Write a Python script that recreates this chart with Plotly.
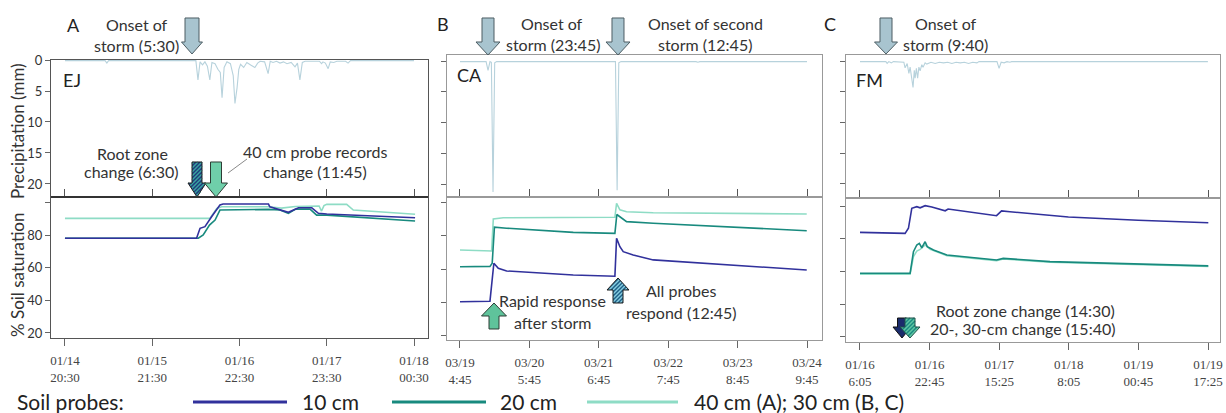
import plotly.graph_objects as go

W, H = 1226, 413

# ---------------- DATA ----------------
# Panel A (EJ) – hours after first tick
A_tick_hours = [0, 25, 50, 75, 100]
A_tick_labels = ["01/14<br>20:30", "01/15<br>21:30", "01/16<br>22:30", "01/17<br>23:30", "01/18<br>00:30"]
A_rain_hours = [0, 11.5, 12.0, 12.5, 37.5, 38.1, 38.7, 39.4, 40.1, 40.8, 41.5, 42.1, 43.0, 43.8, 44.5, 45.0,
                45.6, 46.4, 47.4, 48.2, 48.7, 49.3, 49.8, 50.3, 51.2, 52.1, 53.2, 54.4, 55.2, 55.9, 57.2, 58.2,
                58.8, 59.6, 60.6, 61.6, 62.6, 63.6, 64.8, 65.9, 66.6, 67.3, 68.0, 68.8, 72.9, 73.5, 73.9, 74.6,
                75.4, 76.0, 77.0, 77.9, 80.4, 81.1, 81.8, 100]
A_rain_mm = [0.1, 0.1, 0.5, 0.1, 0.1, 3.2, 0.3, 0.8, 0.3, 1.0, 3.2, 0.4, 0.6, 1.5, 2.0, 6.1,
             1.2, 0.3, 0.6, 2.5, 7.0, 4.5, 1.5, 0.7, 1.2, 0.4, 0.8, 1.2, 0.5, 0.2, 0.3, 2.2,
             0.2, 0.4, 0.2, 0.5, 0.3, 0.6, 0.4, 1.1, 0.5, 3.2, 0.4, 0.2, 0.2, 0.6, 0.3, 0.5,
             1.4, 0.3, 0.4, 0.2, 0.2, 0.5, 0.1, 0.1]
A_10cm_hours = [0, 37.7, 38.7, 40.1, 42.0, 44.4, 45.3, 58.3, 58.7, 61.6, 64.0, 66.9, 70.7, 72.6, 75.0, 85.0, 100.3]
A_10cm = [78.0, 78.0, 84.1, 85.1, 91.2, 98.4, 99.0, 99.0, 97.3, 95.3, 93.9, 96.7, 96.7, 93.3, 92.9, 92.0, 90.6]
A_20cm_hours = [0, 38.2, 39.6, 41.4, 43.0, 44.4, 58.3, 61.6, 64.0, 66.1, 70.2, 72.1, 75.0, 82.6, 100.3]
A_20cm = [78.0, 78.0, 80.0, 86.1, 89.2, 95.3, 95.7, 95.3, 93.3, 95.9, 95.9, 92.2, 92.2, 91.2, 88.6]
A_deep_hours = [0, 41.5, 43.5, 44.9, 58.3, 62.0, 66.0, 72.8, 73.5, 74.2, 75.0, 80.7, 82.6, 100.3]
A_deep = [90.2, 90.2, 96.3, 97.3, 97.3, 96.5, 97.5, 97.8, 94.7, 98.0, 98.8, 98.8, 95.3, 92.7]

# Panel B (CA)
B_tick_hours = [0, 25, 50, 75, 100, 125]
B_tick_labels = ["03/19<br>4:45", "03/20<br>5:45", "03/21<br>6:45", "03/22<br>7:45", "03/23<br>8:45", "03/24<br>9:45"]
B_rain_hours = [0, 9.4, 10.1, 10.8, 11.3, 11.9, 12.5, 13.2, 56.0, 56.6, 57.2, 58.0, 85.0, 85.7, 86.4, 125]
B_rain_mm = [0.1, 0.1, 1.5, 0.1, 0.2, 21.3, 0.3, 0.1, 0.1, 21.0, 0.3, 0.1, 0.1, 0.2, 0.1, 0.1]
B_10cm_hours = [0, 10.8, 12.2, 13.8, 16.8, 40.8, 55.8, 56.4, 57.0, 57.6, 58.8, 62.4, 69.6, 124.9]
B_10cm = [40.2, 40.5, 63.5, 60.4, 58.8, 56.4, 55.6, 78.6, 76.0, 73.5, 70.5, 68.5, 65.5, 59.4]
B_20cm_hours = [0, 10.8, 11.6, 12.4, 16.8, 40.8, 55.8, 56.5, 60.0, 69.6, 124.9]
B_20cm = [61.4, 61.6, 63.5, 85.3, 84.7, 82.2, 81.6, 93.0, 88.7, 87.7, 83.2]
B_deep_hours = [0, 11.4, 12.0, 15.6, 55.8, 56.4, 57.6, 60.0, 69.6, 124.9]
B_deep = [71.5, 70.9, 90.3, 91.0, 91.3, 99.8, 95.8, 94.7, 94.1, 93.3]

# Panel C (FM)
C_tick_hours = [0, 16.667, 33.333, 50, 66.667, 83.333]
C_tick_labels = ["01/16<br>6:05", "01/16<br>22:45", "01/17<br>15:25", "01/18<br>8:05", "01/19<br>00:45", "01/19<br>17:25"]
C_rain_hours = [0, 6.2, 6.5, 6.9, 7.5, 8.0, 10.5, 10.8, 11.3, 11.7, 12.0, 12.4, 12.7, 13.0, 13.2, 13.5, 13.8, 14.1,
                14.4, 14.8, 15.1, 15.6, 16.0, 17, 18, 19, 20, 21, 22, 23, 24, 25, 26, 27, 28, 28.5,
                32.8, 33.3, 33.8, 34.5, 35.2, 35.9, 36.3, 83.3]
C_rain_mm = [0.1, 0.1, 0.4, 0.1, 0.3, 0.1, 0.2, 1.1, 0.4, 2.0, 1.0, 2.5, 4.3, 1.5, 2.8, 1.2, 2.8, 1.0,
             1.6, 0.6, 1.0, 0.3, 0.5, 0.2, 0.4, 0.2, 0.3, 0.2, 0.4, 0.2, 0.3, 0.2, 0.4, 0.2, 0.3, 0.1,
             0.1, 1.2, 0.2, 0.3, 0.1, 0.2, 0.1, 0.1]
C_10cm_hours = [0, 10.8, 11.6, 12.4, 13.6, 14.4, 15.6, 17.2, 20.4, 21.1, 32.7, 33.9, 35.9, 45.5, 49.9, 66.6, 83.4]
C_10cm = [83.9, 83.3, 86.4, 98.6, 99.6, 98.9, 100.2, 99.4, 97.1, 98.2, 94.1, 97.0, 96.5, 94.0, 93.3, 91.3, 89.8]
C_20cm_hours = [0, 12.0, 12.8, 13.6, 14.2, 14.8, 15.6, 16.1, 17.6, 20.8, 32.7, 34.3, 45.5, 66.6, 83.4]
C_20cm = [58.9, 58.9, 72.1, 76.2, 77.2, 74.5, 78.2, 75.2, 73.1, 70.1, 67.0, 68.0, 66.0, 64.6, 63.4]
C_deep_hours = [0, 12.0, 12.8, 13.6, 14.4, 15.6, 16.8, 20.8, 32.7, 34.3, 45.5, 66.6, 83.4]
C_deep = [58.3, 58.3, 69.1, 72.5, 73.5, 76.2, 73.5, 69.7, 66.6, 67.6, 65.6, 64.2, 63.0]

RAIN_TICKS = [0, 5, 10, 15, 20]
SOIL_TICKS = [20, 40, 60, 80, 100]
SOIL_TICK_TEXT = ["20", "40", "60", "80", ""]

COL_10 = "#31319c"
COL_20 = "#188a7e"
COL_DEEP = "#8edcc5"
COL_RAIN = "#b7d2dc"

FONT = "Lato, 'Open Sans', sans-serif"
SERIF = "'Liberation Serif', serif"


def px(x):
    return x / W


def py(y):
    return 1 - y / H


panels = [
    dict(x0=51, x1=428, top=60, mid=197, bot=338, xr=[-4.0, 104.0], rr=[22.1, 0], sr=[16.9, 103.3],
         tv=A_tick_hours, tt=A_tick_labels, labels=True, lc="#555",
         rain=(A_rain_hours, A_rain_mm),
         soil=[(A_10cm_hours, A_10cm, COL_10), (A_20cm_hours, A_20cm, COL_20), (A_deep_hours, A_deep, COL_DEEP)]),
    dict(x0=447, x1=822, top=55, mid=197, bot=340, xr=[-4.68, 130.4], rr=[22.1, -0.98], sr=[17.0, 103.6],
         tv=B_tick_hours, tt=B_tick_labels, labels=False, lc="#999",
         rain=(B_rain_hours, B_rain_mm),
         soil=[(B_10cm_hours, B_10cm, COL_10), (B_20cm_hours, B_20cm, COL_20), (B_deep_hours, B_deep, COL_DEEP)]),
    dict(x0=846, x1=1220, top=55, mid=198, bot=342, xr=[-3.35, 86.2], rr=[22.3, -0.98], sr=[16.9, 104.9],
         tv=C_tick_hours, tt=C_tick_labels, labels=False, lc="#999",
         rain=(C_rain_hours, C_rain_mm),
         soil=[(C_10cm_hours, C_10cm, COL_10), (C_20cm_hours, C_20cm, COL_20), (C_deep_hours, C_deep, COL_DEEP)]),
]

fig = go.Figure()
layout = {}


def kx(n):
    return "xaxis" if n == 1 else f"xaxis{n}"


def ky(n):
    return "yaxis" if n == 1 else f"yaxis{n}"


for i, p in enumerate(panels):
    t = 2 * i + 1
    b = 2 * i + 2
    xt, yt = f"x{t}", f"y{t}"
    xb, yb = f"x{b}", f"y{b}"
    xdom = [px(p["x0"]), px(p["x1"])]
    common = dict(showgrid=False, zeroline=False, showline=True, mirror=True, linecolor=p["lc"], linewidth=1,
                  automargin=False)
    layout[kx(t)] = dict(domain=xdom, range=p["xr"], anchor=yt, tickvals=p["tv"], ticks="inside", ticklen=8,
                         tickcolor="#555", showticklabels=False, **common)
    layout[ky(t)] = dict(domain=[py(p["mid"]), py(p["top"])], range=p["rr"], anchor=xt, tickvals=RAIN_TICKS,
                         ticks="outside", ticklen=5, tickcolor="#666", showticklabels=p["labels"],
                         tickfont=dict(family=FONT, size=13, color="#333"), **common)
    layout[kx(b)] = dict(domain=xdom, range=p["xr"], anchor=yb, tickvals=p["tv"], ticktext=p["tt"],
                         ticks="outside", ticklen=7, tickcolor="#666", ticklabelstandoff=3,
                         tickfont=dict(family=SERIF, size=13, color="#444"), **common)
    layout[ky(b)] = dict(domain=[py(p["bot"]), py(p["mid"])], range=p["sr"], anchor=xb, tickvals=SOIL_TICKS,
                         ticktext=SOIL_TICK_TEXT, ticks="outside", ticklen=5, tickcolor="#666",
                         showticklabels=p["labels"], tickfont=dict(family=FONT, size=13, color="#333"), **common)
    rh, rm = p["rain"]
    fig.add_trace(go.Scatter(x=rh, y=rm, mode="lines", line=dict(color=COL_RAIN, width=1.1),
                             xaxis=xt, yaxis=yt, showlegend=False, hoverinfo="skip"))
    for (hh, vv, col) in p["soil"][::-1]:
        fig.add_trace(go.Scatter(x=hh, y=vv, mode="lines", line=dict(color=col, width=1.6),
                                 xaxis=xb, yaxis=yb, showlegend=False, hoverinfo="skip"))

# ---------------- annotations ----------------
ann = []


def txt(x, y, s, size=16, color="#333", anchor="center", angle=0):
    ann.append(dict(x=px(x), y=py(y), xref="paper", yref="paper", text=s, showarrow=False,
                    xanchor=anchor, yanchor="middle", textangle=angle,
                    font=dict(family=FONT, size=size, color=color)))


# panel letters and site codes
txt(73, 25, "A", 18, "#222")
txt(443, 24, "B", 18, "#222")
txt(830, 24, "C", 18, "#222")
txt(72, 80, "EJ", 18, "#222")
txt(469, 75, "CA", 18, "#222")
txt(869, 80, "FM", 18, "#222")

# axis titles
txt(17, 131, "Precipitation (mm)", 17, "#333", angle=-90)
txt(17, 275, "% Soil saturation", 17, "#333", angle=-90)

# panel A notes
txt(137, 24, "Onset of")
txt(136, 45, "storm (5:30)")
txt(132, 153, "Root zone")
txt(131, 171, "change (6:30)")
txt(315, 151, "40 cm probe records")
txt(315, 171, "change (11:45)")
# panel B notes
txt(552, 23, "Onset of")
txt(553, 44, "storm (23:45)")
txt(705, 23, "Onset of second")
txt(705, 44, "storm (12:45)")
txt(552, 300, "Rapid response")
txt(552, 322, "after storm")
txt(681, 290, "All probes")
txt(681, 312, "respond (12:45)")
# panel C notes
txt(946, 23, "Onset of")
txt(945, 44, "storm (9:40)")
txt(1025, 310, "Root zone change (14:30)")
txt(1022, 328, "20-, 30-cm change (15:40)")

# legend text
txt(15, 401, "Soil probes:", 21, "#222", anchor="left")
txt(300, 401, "10 cm", 21, "#222", anchor="left")
txt(498, 401, "20 cm", 21, "#222", anchor="left")
txt(692, 401, "40 cm (A); 30 cm (B, C)", 21, "#222", anchor="left")

# ---------------- shapes (arrows, legend lines) ----------------
shapes = []


def arrow_parts(xc, y0, y1, sw, hw, hl):
    d = 1 if y1 > y0 else -1
    yb = y1 - d * hl
    shaft = [(xc - sw / 2, y0), (xc + sw / 2, y0), (xc + sw / 2, yb), (xc - sw / 2, yb)]
    head = [(xc - hw / 2, yb), (xc + hw / 2, yb), (xc, y1)]
    outline = [(xc - sw / 2, y0), (xc + sw / 2, y0), (xc + sw / 2, yb), (xc + hw / 2, yb), (xc, y1),
               (xc - hw / 2, yb), (xc - sw / 2, yb)]
    return shaft, head, outline


def path_of(pts):
    return "M " + " L ".join(f"{px(x):.5f},{py(y):.5f}" for x, y in pts) + " Z"


def clip_seg(p0, p1, poly):
    t0, t1 = 0.0, 1.0
    dx, dy = p1[0] - p0[0], p1[1] - p0[1]
    n = len(poly)
    area = sum(poly[k][0] * poly[(k + 1) % n][1] - poly[(k + 1) % n][0] * poly[k][1] for k in range(n))
    s = 1 if area > 0 else -1
    for k in range(n):
        ax, ay = poly[k]
        bx, by = poly[(k + 1) % n]
        ex, ey = bx - ax, by - ay
        nx, ny = -ey * s, ex * s
        num = nx * (p0[0] - ax) + ny * (p0[1] - ay)
        den = nx * dx + ny * dy
        if abs(den) < 1e-12:
            if num < 0:
                return None
            continue
        t = -num / den
        if den > 0:
            t0 = max(t0, t)
        else:
            t1 = min(t1, t)
        if t0 > t1:
            return None
    return (p0[0] + t0 * dx, p0[1] + t0 * dy), (p0[0] + t1 * dx, p0[1] + t1 * dy)


def block_arrow(xc, y0, y1, sw, hw, hl, fill, edge="#3a3a3a", stripe=None, spacing=4.0, sw_line=1.4):
    shaft, head, outline = arrow_parts(xc, y0, y1, sw, hw, hl)
    shapes.append(dict(type="path", path=path_of(outline), xref="paper", yref="paper",
                       fillcolor=fill, line=dict(color=fill, width=0), layer="above"))
    if stripe:
        allx = [q[0] for q in outline]
        ally = [q[1] for q in outline]
        ytop, ybot = min(ally) - 2, max(ally) + 2
        cmin, cmax = min(allx) + min(ally) - 2, max(allx) + max(ally) + 2
        c = cmin
        while c <= cmax:
            a = (c - ybot, ybot)
            bpt = (c - ytop, ytop)
            for part in (shaft, head):
                r = clip_seg(a, bpt, part)
                if r:
                    (x0_, y0_), (x1_, y1_) = r
                    shapes.append(dict(type="line", xref="paper", yref="paper",
                                       x0=px(x0_), y0=py(y0_), x1=px(x1_), y1=py(y1_),
                                       line=dict(color=stripe, width=sw_line), layer="above"))
            c += spacing
    shapes.append(dict(type="path", path=path_of(outline), xref="paper", yref="paper",
                       fillcolor="rgba(0,0,0,0)", line=dict(color=edge, width=1), layer="above"))


ONSET = "#a8c4cf"
# storm onset arrows
block_arrow(192, 18, 54, 14, 21, 12, ONSET, "#4d5d63")
block_arrow(488, 18, 55, 12, 24, 13, ONSET, "#4d5d63")
block_arrow(618, 18, 55, 12, 24, 13, ONSET, "#4d5d63")
block_arrow(886, 18, 54, 12, 23, 12, ONSET, "#4d5d63")
# panel A probe arrows
block_arrow(197, 162, 197, 10, 18, 14, "#1f3c7c", "#222", stripe="#3aa5a0")
block_arrow(216, 162, 197, 11, 23, 14, "#6fcfaa", "#2d3d35")
shapes.append(dict(type="line", xref="paper", yref="paper", x0=px(228), y0=py(173), x1=px(247), y1=py(159),
                   line=dict(color="#8a8a8a", width=1)))
# panel B response arrows
block_arrow(494, 329, 303, 10, 25, 13, "#5fc39b", "#2d3d35")
block_arrow(618, 303, 278, 10, 22, 12, "#1f5f86", "#222", stripe="#86cde0")
# panel C response arrows
block_arrow(902, 318, 338, 9, 18, 11, "#1b2c6c", "#111")
block_arrow(910, 318, 338, 10, 20, 11, "#5fc7a4", "#1f4f48", stripe="#1a8a80")

# legend lines
for (a, b, col) in [(193, 287, COL_10), (392, 486, COL_20), (587, 678, COL_DEEP)]:
    shapes.append(dict(type="line", xref="paper", yref="paper", x0=px(a), x1=px(b), y0=py(402), y1=py(402),
                       line=dict(color=col, width=3)))

# thicker divider in panel A
shapes.append(dict(type="line", xref="paper", yref="paper", x0=px(51), x1=px(428), y0=py(197), y1=py(197),
                   line=dict(color="#333", width=2), layer="above"))

fig.update_layout(
    template="none",
    width=W, height=H,
    autosize=False,
    margin=dict(l=0, r=0, t=0, b=0, pad=0),
    paper_bgcolor="white", plot_bgcolor="white",
    showlegend=False,
    annotations=ann,
    shapes=shapes,
    **layout,
)

fig.write_html(
    "out.html",
    config={"responsive": False, "displayModeBar": False},
    post_script="document.body.style.margin='0';document.body.style.padding='0';document.body.style.overflow='hidden';",
)
